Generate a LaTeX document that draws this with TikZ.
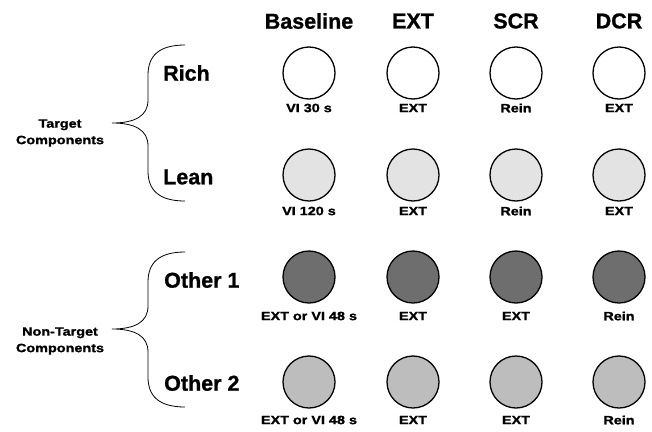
\documentclass[tikz,border=0pt]{standalone}
\usepackage{fontspec}
\newfontfamily\hdrfont{Liberation Sans}[BoldFeatures={FakeBold=1.0}]
\newfontfamily\smfont{Liberation Sans}[FakeStretch=1.2, BoldFeatures={FakeBold=1.4}]
\definecolor{leanfill}{HTML}{E3E3E3}
\definecolor{otheronefill}{HTML}{6E6E6E}
\definecolor{othertwofill}{HTML}{BDBDBD}
\begin{document}
\begin{tikzpicture}[x=1pt,y=-1pt,
  hdr/.style={font=\hdrfont\bfseries\fontsize{21.5}{24}\selectfont, inner sep=0pt},
  rowlbl/.style={font=\hdrfont\bfseries\fontsize{21.5}{24}\selectfont, inner sep=0pt, anchor=west},
  lbl/.style={font=\smfont\bfseries\fontsize{12}{16.5}\selectfont, inner sep=0pt},
  grp/.style={font=\smfont\bfseries\fontsize{12}{16.5}\selectfont, inner sep=0pt, align=center},
  dot/.style={circle, draw=black, line width=1.3pt, minimum size=52pt, inner sep=0pt},
  bracestyle/.style={draw=black, line width=0.8pt}
]
\useasboundingbox (0,0) rectangle (652,431);

% column headers
\node[hdr] (hB) at (309,21) {Baseline};
\node[hdr] (hE) at (413,21) {EXT};
\node[hdr] (hS) at (516,21) {SCR};
\node[hdr] (hD) at (619,21) {DCR};

% row labels
\node[rowlbl] (rRich) at (163,73) {Rich};
\node[rowlbl] (rLean) at (163,177) {Lean};
\node[rowlbl] (rO1) at (164,280) {Other 1};
\node[rowlbl] (rO2) at (164,383) {Other 2};

% group labels
\node[grp] (gT) at (60,133) {Target\\Components};
\node[grp] (gN) at (60,341) {Non-Target\\Components};

% circles
\foreach \c/\x in {B/309,E/413,S/516,D/619}{
  \node[dot, fill=white] (a\c) at (\x,73) {};
  \node[dot, fill=leanfill] (b\c) at (\x,175) {};
  \node[dot, fill=otheronefill] (o\c) at (\x,277) {};
  \node[dot, fill=othertwofill] (t\c) at (\x,382) {};
}

% circle labels
\node[lbl] (laB) at (309,108) {VI 30 s};
\node[lbl] (laE) at (413,108) {EXT};
\node[lbl] (laS) at (516,108) {Rein};
\node[lbl] (laD) at (619,108) {EXT};

\node[lbl] (lbB) at (309,211) {VI 120 s};
\node[lbl] (lbE) at (413,211) {EXT};
\node[lbl] (lbS) at (516,211) {Rein};
\node[lbl] (lbD) at (619,211) {EXT};

\node[lbl] (loB) at (309,316) {EXT or VI 48 s};
\node[lbl] (loE) at (413,316) {EXT};
\node[lbl] (loS) at (516,316) {EXT};
\node[lbl] (loD) at (619,316) {Rein};

\node[lbl] (ltB) at (309,420) {EXT or VI 48 s};
\node[lbl] (ltE) at (413,420) {EXT};
\node[lbl] (ltS) at (516,420) {EXT};
\node[lbl] (ltD) at (619,420) {Rein};

% braces
\path[bracestyle] (185,45) .. controls (160,45) and (148,55) .. (148,75)
  -- (148,100) .. controls (148,116) and (135,123) .. (112,123)
  .. controls (135,123) and (148,130) .. (148,146)
  -- (148,171) .. controls (148,191) and (160,201) .. (185,201);
\path[bracestyle] (185,252) .. controls (160,252) and (148,262) .. (148,282)
  -- (148,306) .. controls (148,322) and (135,329) .. (112,329)
  .. controls (135,329) and (148,336) .. (148,352)
  -- (148,377) .. controls (148,397) and (160,407) .. (185,407);
\end{tikzpicture}
\end{document}
